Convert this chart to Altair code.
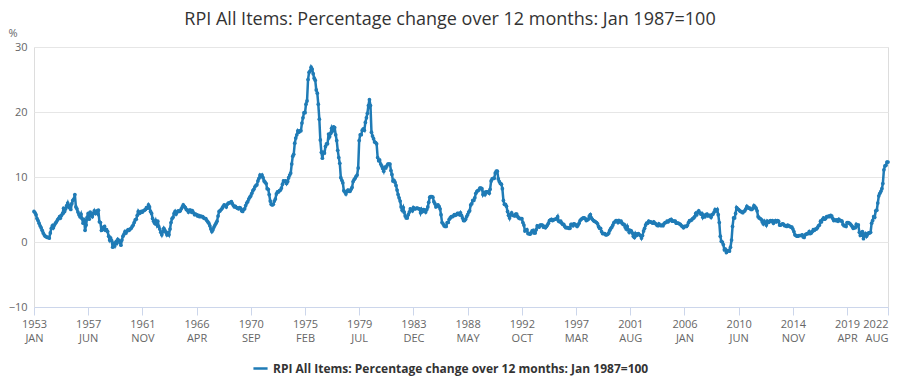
import altair as alt
import pandas as pd

SERIES_NAME = "RPI All Items: Percentage change over 12 months: Jan 1987=100"
TITLE = "RPI All Items: Percentage change over 12 months: Jan 1987=100"
START = "1953-01-01"

# monthly values, 1953 Jan .. 1959 Dec
rpi_1950s = [
    4.7, 4.5, 4.2, 3.6, 3.3, 2.9, 2.5, 2.2, 1.8, 1.4, 1.1, 0.9,
    0.8, 0.7, 0.7, 0.6, 1.4, 2.1, 2.5, 2.2, 2.6, 2.9, 3.1, 3.4,
    3.6, 3.9, 3.7, 4.1, 4.4, 5.2, 4.7, 5.1, 5.6, 6.0, 5.4, 5.6,
    5.0, 5.9, 6.4, 6.6, 7.3, 5.4, 5.1, 4.6, 4.2, 3.9, 4.3, 3.6,
    2.9, 3.5, 1.8, 2.6, 3.8, 4.4, 3.5, 4.6, 4.1, 3.9, 4.4, 4.8,
    4.4, 4.7, 4.4, 4.9, 3.1, 3.0, 1.8, 1.9, 2.3, 2.4, 1.8, 1.9,
    1.6, 0.9, 0.3, 0.6, 0.2, -0.8, -0.3, -0.6, 0.0, -0.2, 0.4, 0.2,
]
rpi_1960s = [
    0.0, -0.5, 0.3, 0.9, 1.2, 1.6, 1.4, 1.7, 1.9, 1.8, 2.0, 2.1,
    2.4, 2.6, 3.0, 3.4, 3.5, 4.1, 4.7, 4.4, 4.5, 4.7, 4.6, 4.8,
    4.9, 5.0, 5.3, 5.2, 5.7, 5.4, 4.7, 4.4, 3.6, 3.2, 2.9, 3.3,
    2.7, 3.2, 2.4, 2.0, 1.5, 1.1, 1.6, 2.1, 1.8, 1.5, 1.1, 1.4,
    1.1, 2.0, 3.0, 3.6, 3.8, 4.4, 4.7, 4.3, 4.6, 4.8, 4.7, 4.8,
    5.1, 5.4, 5.7, 5.5, 5.3, 5.0, 4.9, 4.6, 4.9, 4.9, 4.6, 4.8,
    4.5, 4.2, 4.3, 4.2, 4.0, 4.1, 3.9, 4.0, 3.9, 3.9, 3.7, 3.6,
    3.6, 3.3, 3.1, 2.9, 2.5, 2.0, 1.6, 1.9, 2.3, 2.6, 2.9, 3.2,
    4.0, 4.7, 4.8, 5.0, 5.2, 5.5, 5.7, 5.6, 5.4, 5.8, 6.0, 6.0,
    6.1, 6.2, 5.9, 5.6, 5.4, 5.5, 5.3, 5.2, 5.1, 5.3, 5.2, 4.8,
]
rpi_1970s = [
    4.7, 5.0, 5.1, 5.6, 6.0, 6.2, 6.6, 6.9, 7.1, 7.5, 7.9, 8.1,
    8.5, 8.7, 8.8, 9.4, 9.8, 10.3, 10.1, 10.3, 9.9, 9.4, 9.2, 9.0,
    8.2, 8.1, 7.3, 6.3, 5.8, 5.7, 5.8, 6.3, 6.6, 7.4, 7.7, 7.7,
    7.9, 8.0, 8.3, 8.9, 9.4, 9.3, 9.4, 9.0, 9.3, 9.9, 10.3, 10.6,
    12.0, 13.2, 13.5, 15.2, 16.0, 16.5, 17.1, 16.9, 17.1, 17.1, 18.3, 19.1,
    19.9, 19.9, 21.2, 21.7, 25.0, 26.1, 26.3, 26.9, 26.6, 25.9, 25.2, 24.9,
    23.4, 22.9, 21.2, 18.9, 15.7, 13.8, 12.9, 13.8, 13.7, 14.7, 15.1, 15.1,
    16.6, 16.2, 16.7, 17.5, 17.1, 17.7, 17.6, 16.5, 15.6, 14.1, 13.0, 12.1,
    9.9, 9.5, 9.1, 7.9, 7.7, 7.4, 7.8, 8.0, 7.8, 7.8, 8.1, 8.4,
    9.3, 9.6, 9.8, 10.1, 10.3, 11.4, 15.6, 16.5, 16.5, 17.2, 17.4, 17.2,
]
rpi_1980s = [
    18.4, 19.1, 19.8, 21.0, 21.9, 21.0, 16.9, 16.3, 15.9, 15.4, 15.3, 15.1,
    13.0, 12.5, 12.6, 12.0, 11.7, 11.3, 10.9, 11.5, 11.4, 11.7, 12.0, 12.0,
    12.0, 11.0, 10.4, 9.4, 9.5, 9.2, 8.7, 8.0, 7.3, 6.8, 6.3, 5.4,
    4.9, 5.3, 4.6, 4.0, 3.7, 3.7, 4.2, 4.6, 5.1, 5.0, 4.8, 5.3,
    5.1, 5.1, 5.2, 5.2, 5.1, 5.1, 4.5, 5.0, 4.7, 5.0, 4.9, 4.6,
    5.0, 5.4, 6.1, 6.9, 7.0, 7.0, 6.9, 6.2, 5.9, 5.4, 5.5, 5.7,
    5.5, 5.1, 4.2, 3.0, 2.8, 2.5, 2.4, 2.4, 3.0, 3.0, 3.5, 3.7,
    3.9, 3.9, 4.0, 4.2, 4.1, 4.2, 4.4, 4.4, 4.2, 4.5, 4.1, 3.7,
    3.3, 3.3, 3.5, 3.9, 4.2, 4.6, 4.8, 5.7, 5.9, 6.4, 6.4, 6.8,
    7.5, 7.8, 7.9, 8.0, 8.3, 8.3, 8.2, 7.3, 7.6, 7.3, 7.7, 7.7,
]
rpi_1990s = [
    7.7, 7.5, 8.1, 9.4, 9.7, 9.8, 9.8, 10.6, 10.9, 10.9, 9.7, 9.3,
    9.0, 8.9, 8.2, 6.4, 5.8, 5.8, 5.5, 4.7, 4.1, 3.7, 4.3, 4.5,
    4.1, 4.1, 4.0, 4.3, 4.3, 3.9, 3.7, 3.6, 3.6, 3.6, 3.0, 2.6,
    1.7, 1.8, 1.9, 1.3, 1.3, 1.2, 1.4, 1.7, 1.8, 1.4, 1.4, 1.9,
    2.5, 2.4, 2.3, 2.6, 2.6, 2.6, 2.3, 2.4, 2.2, 2.4, 2.6, 2.9,
    3.3, 3.4, 3.5, 3.3, 3.4, 3.5, 3.5, 3.6, 3.9, 3.2, 3.1, 3.2,
    2.9, 2.7, 2.7, 2.4, 2.2, 2.2, 2.2, 2.1, 2.1, 2.7, 2.7, 2.5,
    2.8, 2.7, 2.6, 2.4, 2.6, 2.9, 3.3, 3.5, 3.6, 3.7, 3.7, 3.6,
    3.3, 3.4, 3.5, 4.0, 4.2, 3.7, 3.5, 3.3, 3.2, 3.1, 3.0, 2.8,
    2.4, 2.1, 2.1, 1.6, 1.3, 1.3, 1.3, 1.1, 1.1, 1.2, 1.4, 1.8,
]
rpi_2000s = [
    2.1, 2.3, 2.6, 3.0, 3.1, 3.3, 3.3, 3.0, 3.3, 3.1, 3.2, 2.9,
    2.7, 2.7, 2.3, 2.0, 2.4, 1.9, 1.5, 1.8, 1.7, 1.4, 0.9, 0.7,
    1.3, 1.0, 1.2, 1.3, 1.1, 1.0, 0.6, 1.0, 1.7, 2.1, 2.6, 2.9,
    2.9, 3.2, 3.1, 3.1, 3.0, 2.9, 3.1, 2.9, 2.8, 2.6, 2.5, 2.8,
    2.6, 2.5, 2.6, 2.5, 2.8, 3.0, 3.0, 3.2, 3.1, 3.3, 3.4, 3.5,
    3.2, 3.2, 3.2, 3.2, 2.9, 2.9, 2.9, 2.8, 2.7, 2.5, 2.4, 2.2,
    2.4, 2.4, 2.4, 2.6, 3.0, 3.3, 3.3, 3.4, 3.6, 3.7, 3.9, 4.4,
    4.2, 4.6, 4.8, 4.5, 4.3, 4.4, 3.8, 4.1, 3.9, 4.2, 4.3, 4.0,
    4.1, 4.1, 3.8, 4.2, 4.3, 4.6, 5.0, 4.8, 5.0, 4.2, 3.0, 0.9,
    0.1, 0.0, -0.4, -1.2, -1.1, -1.6, -1.4, -1.3, -1.4, -0.8, 0.3, 2.4,
]
rpi_2010s = [
    3.7, 3.7, 4.4, 5.3, 5.1, 5.0, 4.8, 4.7, 4.6, 4.5, 4.7, 4.8,
    5.1, 5.5, 5.3, 5.2, 5.2, 5.0, 5.0, 5.2, 5.6, 5.4, 5.2, 4.8,
    3.9, 3.7, 3.6, 3.5, 3.1, 2.8, 3.2, 2.9, 2.6, 3.2, 3.0, 3.1,
    3.3, 3.2, 3.3, 2.9, 3.1, 3.3, 3.1, 3.3, 3.2, 2.6, 2.6, 2.7,
    2.8, 2.7, 2.5, 2.5, 2.4, 2.6, 2.5, 2.4, 2.3, 2.3, 2.0, 1.6,
    1.1, 1.0, 0.9, 0.9, 1.0, 1.0, 1.0, 1.1, 0.8, 0.7, 1.1, 1.2,
    1.3, 1.3, 1.6, 1.3, 1.4, 1.6, 1.9, 1.8, 2.0, 2.0, 2.2, 2.5,
    2.6, 3.2, 3.1, 3.5, 3.7, 3.5, 3.6, 3.9, 3.9, 4.0, 3.9, 4.1,
    4.0, 3.6, 3.3, 3.4, 3.3, 3.4, 3.2, 3.5, 3.3, 3.3, 3.2, 2.7,
    2.5, 2.5, 2.4, 3.0, 3.0, 2.9, 2.8, 2.6, 2.4, 2.1, 2.2, 2.2,
]
rpi_2020s = [
    2.7, 2.5, 2.6, 1.5, 1.0, 1.1, 1.6, 0.5, 1.1, 1.3, 0.9, 1.2,
    1.4, 1.4, 1.5, 2.9, 3.3, 3.9, 3.8, 4.8, 4.9, 6.0, 7.1, 7.5,
    7.8, 8.2, 9.0, 11.1, 11.7, 11.8, 12.3, 12.3,
]

TICK_MONTHS = [(1953, 1), (1957, 6), (1961, 11), (1966, 4), (1970, 9), (1975, 2),
               (1979, 7), (1983, 12), (1988, 5), (1992, 10), (1997, 3), (2001, 8),
               (2006, 1), (2010, 6), (2014, 11), (2019, 4), (2022, 8)]
Y_TICKS = [-10, 0, 10, 20, 30]
Y_DOMAIN = [-10, 30]

values = rpi_1950s + rpi_1960s + rpi_1970s + rpi_1980s + rpi_1990s + rpi_2000s + rpi_2010s + rpi_2020s
dates = pd.date_range(START, periods=len(values), freq="MS").strftime("%Y-%m-%d")
df = pd.DataFrame({"date": dates, "value": values, "series": SERIES_NAME})

FONT = "Open Sans"
LINE_COLOR = "#1f7bb6"

tick_values = [alt.DateTime(year=y, month=m, date=1, utc=True) for y, m in TICK_MONTHS]
x_domain = [tick_values[0], tick_values[-1]]

# the last tick label (Aug 2022) sits at the right edge: right-align it so it stays visible
last_label_align = {"condition": {"test": "datum.value > 1659000000000", "value": "right"},
                    "value": "center"}

chart = alt.Chart(df).mark_line(
    strokeWidth=2.5,
    point=alt.OverlayMarkDef(filled=True, size=14),
).encode(
    x=alt.X(
        "date:T",
        scale=alt.Scale(type="utc", domain=x_domain, nice=False),
        axis=alt.Axis(
            values=tick_values,
            labelExpr="[utcFormat(datum.value, '%Y'), upper(utcFormat(datum.value, '%b'))]",
            title=None, grid=False,
            domainColor="#ccd6eb", tickColor="#ccd6eb", tickSize=8,
            labelColor="#666666", labelFontSize=11, labelFont=FONT,
            labelLineHeight=14, labelPadding=3, labelAlign=last_label_align,
            labelOverlap=False, labelFlush=False,
        ),
    ),
    y=alt.Y(
        "value:Q",
        scale=alt.Scale(domain=Y_DOMAIN, nice=False, zero=False),
        axis=alt.Axis(
            values=Y_TICKS, title="%", titleAngle=0, titleX=-26, titleY=-9,
            titleAlign="left", titleBaseline="bottom", titleFontWeight="normal",
            titleColor="#666666", titleFontSize=11, titleFont=FONT,
            domain=False, ticks=False, gridColor="#e6e6e6",
            labelColor="#666666", labelFontSize=11, labelFont=FONT, labelPadding=7,
        ),
    ),
    color=alt.Color(
        "series:N",
        scale=alt.Scale(range=[LINE_COLOR]),
        legend=alt.Legend(
            orient="none", legendX=218, legendY=313, title=None,
            labelFontWeight="bold", labelFontSize=12, labelColor="#333333", labelFont=FONT,
            symbolType="stroke", symbolStrokeWidth=2.5, symbolSize=200, labelLimit=600,
        ),
    ),
).properties(
    width=854,
    height=260,
    title=alt.TitleParams(
        TITLE, fontSize=18, font=FONT, fontWeight="normal", color="#333333",
        anchor="middle", dx=-11, dy=3, offset=1,
    ),
    autosize=alt.AutoSizeParams(type="none"),
    padding={"left": 26, "top": 39, "right": 4, "bottom": 70},
).configure_view(stroke=None).configure(background="white")

chart.save("out.html", embed_options={"renderer": "svg", "actions": False})
